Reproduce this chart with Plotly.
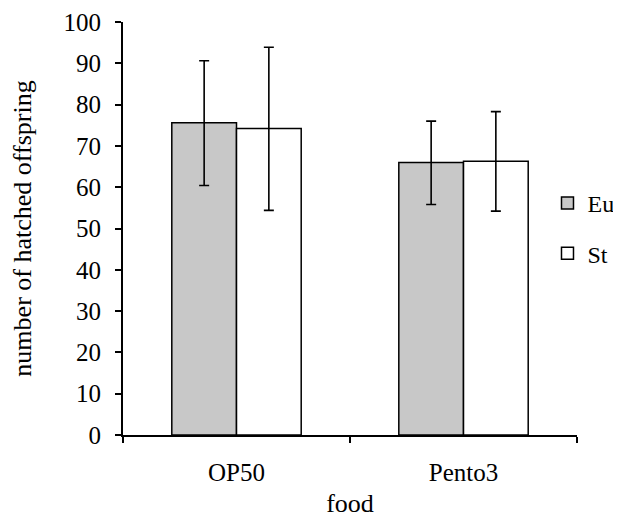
import plotly.graph_objects as go

foods = ["OP50", "Pento3"]
eu_mean = [75.6, 66.0]
eu_err_plus = [15.0, 10.0]
eu_err_minus = [15.2, 10.2]
st_mean = [74.2, 66.3]
st_err_plus = [19.7, 12.0]
st_err_minus = [19.8, 12.1]

FONT = "Liberation Serif, Times New Roman, serif"

fig = go.Figure()
fig.add_trace(go.Bar(
    name="Eu", x=foods, y=eu_mean,
    marker=dict(color="#c8c8c8", line=dict(color="black", width=1.5)),
    error_y=dict(type="data", symmetric=False, array=eu_err_plus, arrayminus=eu_err_minus,
                 color="black", thickness=1.6, width=5),
    legendgroup="eu",
))
fig.add_trace(go.Bar(
    name="St", x=foods, y=st_mean,
    marker=dict(color="white", line=dict(color="black", width=1.5)),
    error_y=dict(type="data", symmetric=False, array=st_err_plus, arrayminus=st_err_minus,
                 color="black", thickness=1.6, width=5),
    legendgroup="st",
))

fig.update_layout(
    width=613, height=510,
    margin=dict(l=115, r=44, t=14, b=83, autoexpand=False),
    paper_bgcolor="white", plot_bgcolor="white",
    barmode="group", bargap=0.43, bargroupgap=0,
    font=dict(family=FONT, size=25, color="black"),
    legend=dict(x=0.935, y=0.50, xanchor="left", yanchor="middle",
                bgcolor="rgba(0,0,0,0)", font=dict(size=24, color="black"),
                traceorder="grouped", tracegroupgap=16, itemwidth=30),
    xaxis=dict(showline=True, linecolor="black", linewidth=2, automargin=False,
               ticks="outside", ticklen=6, tickwidth=2, tickcolor="black",
               tickson="boundaries", ticklabelstandoff=14,
               tickfont=dict(size=25, color="black"),
               title=dict(text="food", standoff=9, font=dict(size=26, color="black"))),
    yaxis=dict(range=[0, 100], dtick=10, showline=True, linecolor="black", linewidth=2,
               automargin=False, ticklabeloverflow="allow",
               ticks="outside", ticklen=6, tickwidth=2, tickcolor="black",
               showgrid=False, zeroline=False, ticklabelstandoff=9,
               tickfont=dict(size=25, color="black"),
               title=dict(text="number of hatched offspring", standoff=29,
                          font=dict(size=26, color="black"))),
)

fig.write_html("out.html")
